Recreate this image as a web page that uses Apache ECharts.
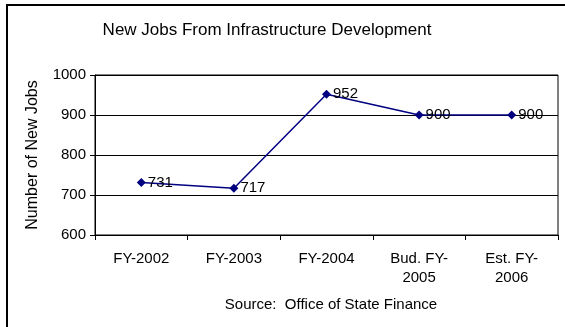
<!DOCTYPE html>
<html>
<head>
<meta charset="utf-8">
<script src="https://cdn.jsdelivr.net/npm/echarts@6/dist/echarts.min.js"></script>
<style>
  html, body { margin: 0; padding: 0; background: #fff; }
  #chart { width: 565px; height: 327px; }
</style>
</head>
<body>
<div id="chart"></div>
<script>
// Fiscal-year categories (two-line labels for the projected years)
const categories = ['FY-2002', 'FY-2003', 'FY-2004', 'Bud. FY-\n2005', 'Est. FY-\n2006'];
// New jobs per year
const newJobs = [731, 717, 952, 900, 900];
// Value axis range
const yMin = 600;
const yMax = 1000;
const yStep = 100;

const font = 'Liberation Sans, Arial, sans-serif';
const chart = echarts.init(document.getElementById('chart'), null, { renderer: 'canvas' });

chart.setOption({
  animation: false,
  backgroundColor: '#fff',
  title: [
    {
      text: 'New Jobs From Infrastructure Development',
      left: 262, top: 17, textAlign: 'center',
      textStyle: { fontFamily: font, fontSize: 17, fontWeight: 'normal', color: '#000' }
    },
    {
      text: 'Source:  Office of State Finance',
      left: 326, top: 292, textAlign: 'center',
      textStyle: { fontFamily: font, fontSize: 15, fontWeight: 'normal', color: '#000' }
    }
  ],
  graphic: [{
    type: 'rect',
    shape: { x: 7, y: 5, width: 640, height: 400 },
    style: { fill: 'none', stroke: '#000', lineWidth: 2 },
    silent: true
  }],
  grid: {
    left: 95, top: 75, width: 463, height: 160,
    show: true, borderColor: '#000', borderWidth: 1, backgroundColor: 'transparent'
  },
  xAxis: {
    type: 'category',
    data: categories,
    boundaryGap: true,
    axisLine: { lineStyle: { color: '#000', width: 1 } },
    axisTick: { show: true, length: 5, lineStyle: { color: '#000' } },
    axisLabel: {
      color: '#000', fontFamily: font, fontSize: 15, margin: 14, lineHeight: 19, interval: 0
    },
    splitLine: { show: false }
  },
  yAxis: {
    type: 'value',
    min: yMin, max: yMax, interval: yStep,
    name: 'Number of New Jobs',
    nameLocation: 'middle',
    nameRotate: 90,
    nameGap: 54,
    nameTextStyle: { color: '#000', fontFamily: font, fontSize: 16 },
    axisLine: { show: true, lineStyle: { color: '#000', width: 1 } },
    axisTick: { show: true, length: 5, lineStyle: { color: '#000' } },
    axisLabel: {
      color: '#000', fontFamily: font, fontSize: 15, margin: 9,
      formatter: v => String(v)
    },
    splitLine: { show: true, lineStyle: { color: '#000', width: 1 } }
  },
  series: [{
    type: 'line',
    data: newJobs,
    symbol: 'diamond',
    symbolSize: 9,
    lineStyle: { color: '#000080', width: 1.5 },
    itemStyle: { color: '#000080' },
    label: {
      show: true, position: 'right', distance: 2,
      color: '#000', fontFamily: font, fontSize: 15
    }
  }]
});
</script>
</body>
</html>
